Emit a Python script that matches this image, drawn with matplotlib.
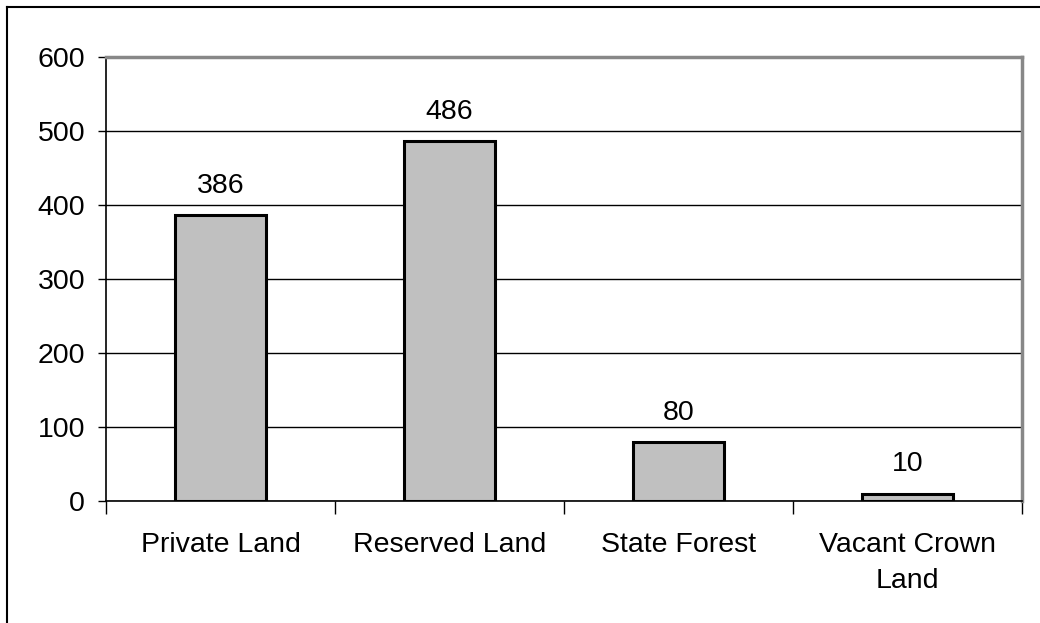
import matplotlib.pyplot as plt
from matplotlib.lines import Line2D

categories = ['Private Land', 'Reserved Land', 'State Forest', 'Vacant Crown\nLand']
values = [386, 486, 80, 10]
yticks = [0, 100, 200, 300, 400, 500, 600]

plt.rcParams['font.family'] = ['Liberation Sans', 'DejaVu Sans']
fs = 20.5

fig = plt.figure(figsize=(10.4, 6.23), dpi=100)
ax = fig.add_axes([106/1040, 1 - 501/623, (1022-106)/1040, (501-57)/623])

x = range(len(categories))
ax.bar(x, values, width=0.4, color='#c0c0c0', edgecolor='black', linewidth=2.2, zorder=3)
for xi, v in zip(x, values):
    ax.text(xi, v + 22, str(v), ha='center', va='bottom', fontsize=fs)

ax.set_xlim(-0.5, len(categories) - 0.5)
ax.set_ylim(0, 600)
ax.set_yticks(yticks)
ax.set_yticklabels([str(t) for t in yticks], fontsize=fs)
ax.yaxis.grid(True, color='black', linewidth=1)
ax.set_axisbelow(True)

# category labels between boundary ticks
ax.set_xticks([i - 0.5 for i in range(len(categories) + 1)])
ax.set_xticklabels([])
ax.set_xticks(list(x), minor=True)
ax.set_xticklabels(categories, minor=True, fontsize=fs, linespacing=1.5)
ax.tick_params(axis='x', which='major', length=9, width=1, direction='out')
ax.tick_params(axis='x', which='minor', length=0, pad=22.5)
ax.tick_params(axis='y', length=6, width=1, pad=9)

for s in ['top', 'right']:
    ax.spines[s].set_color('#888888')
    ax.spines[s].set_linewidth(2.5)
for s in ['left', 'bottom']:
    ax.spines[s].set_color('black')
    ax.spines[s].set_linewidth(1.2)

# frame lines along top and left of the figure
fig.add_artist(Line2D([7/1040, 1], [1 - 7/623, 1 - 7/623], color='black', linewidth=1.5))
fig.add_artist(Line2D([7/1040, 7/1040], [0, 1 - 7/623], color='black', linewidth=1.5))

fig.savefig('out.png', dpi=100)
